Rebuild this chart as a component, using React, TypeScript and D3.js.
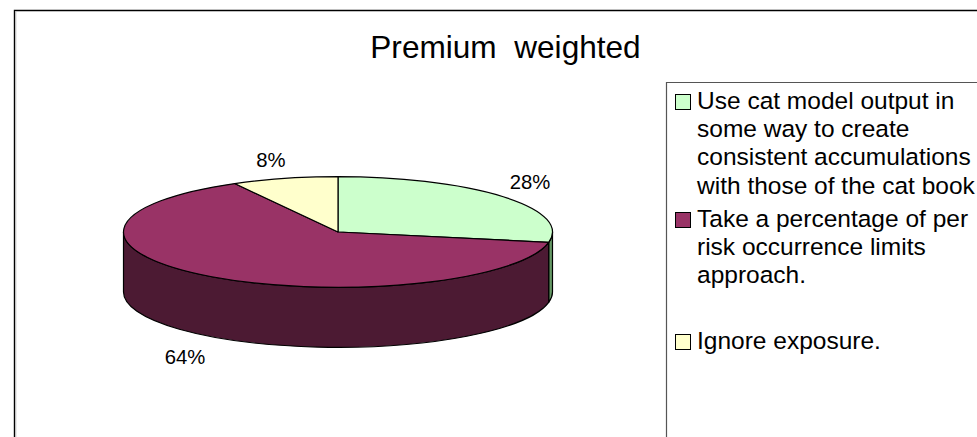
import React from "react";
import * as d3 from "d3";

const title = "Premium  weighted";
const shares = [28, 64, 8];
const shareLabels = ["28%", "64%", "8%"];
const topColors = ["#ccffcc", "#993366", "#ffffcc"];
const sideColors = ["#669966", "#4c1a33", "#808066"];
const legendLines = [
  ["Use cat model output in", "some way to create", "consistent accumulations", "with those of the cat book"],
  ["Take a percentage of per", "risk occurrence limits", "approach."],
  ["Ignore exposure."],
];

const W = 977;
const H = 437;
const FONT = "'Liberation Sans', Arial, sans-serif";
const cx = 338;
const cy = 232;
const rx = 214.5;
const ry = 55.3;
const depth = 60;

// Label centres and baselines, relative to the pie centre, in slice order.
const labelOffsets: [number, number][] = [
  [192, -43],
  [-153, 132],
  [-67, -65],
];
// First baseline of each legend entry.
const legendBaselines = [109, 227, 349];
const legendLineHeight = 28.2;

const pt = (a: number, dy = 0): [number, number] => [cx + rx * Math.sin(a), cy - ry * Math.cos(a) + dy];

const topSlice = (a0: number, a1: number) => {
  const [x0, y0] = pt(a0);
  const [x1, y1] = pt(a1);
  const large = a1 - a0 > Math.PI ? 1 : 0;
  return `M${cx},${cy}L${x0},${y0}A${rx},${ry} 0 ${large} 1 ${x1},${y1}Z`;
};

// Outer wall of a slice, limited to the half of the rim that faces the viewer.
const wall = (a0: number, a1: number) => {
  const s = Math.max(a0, Math.PI / 2);
  const e = Math.min(a1, (3 * Math.PI) / 2);
  if (e <= s) return null;
  const [x0, y0] = pt(s);
  const [x1, y1] = pt(e);
  const [x2, y2] = pt(e, depth);
  const [x3, y3] = pt(s, depth);
  return `M${x0},${y0}A${rx},${ry} 0 0 1 ${x1},${y1}L${x2},${y2}A${rx},${ry} 0 0 0 ${x3},${y3}Z`;
};

export default function App() {
  const arcs = d3
    .pie<number>()
    .sort(null)
    .value((d) => d)(shares);

  return (
    <svg
      width={W}
      height={H}
      viewBox={`0 0 ${W} ${H}`}
      style={{ position: "absolute", left: 0, top: 0, display: "block", background: "#fff", fontFamily: FONT }}
    >
      {/* chart frame, open at the right and bottom */}
      <path d={`M14.5,${H}V10.5H${W}`} fill="none" stroke="#000" strokeWidth={1.4} />
      <line x1={15.8} x2={15.8} y1={11} y2={H} stroke="#bbb" strokeWidth={1} />

      <text x={505.5} y={58} fontSize={31.6} textAnchor="middle" fill="#000" style={{ whiteSpace: "pre" }}>
        {title}
      </text>

      {arcs.map((a, i) => {
        const d = wall(a.startAngle, a.endAngle);
        return d ? <path key={i} d={d} fill={sideColors[i]} stroke="#000" strokeWidth={1.2} strokeLinejoin="round" /> : null;
      })}
      {arcs.map((a, i) => (
        <path key={i} d={topSlice(a.startAngle, a.endAngle)} fill={topColors[i]} stroke="#000" strokeWidth={1.2} strokeLinejoin="round" />
      ))}

      {shareLabels.map((t, i) => (
        <text key={t} x={cx + labelOffsets[i][0]} y={cy + labelOffsets[i][1]} fontSize={20.3} textAnchor="middle" fill="#000">
          {t}
        </text>
      ))}

      {/* legend box, open at the right and bottom */}
      <path d={`M666.5,${H}V82.5H${W}`} fill="none" stroke="#555" strokeWidth={1.2} />
      {legendLines.map((lines, i) => (
        <g key={i}>
          <rect
            x={675.5}
            y={legendBaselines[i] - 14.5}
            width={15}
            height={15}
            fill={topColors[i]}
            stroke="#000"
            strokeWidth={1}
          />
          {lines.map((l, j) => (
            <text key={j} x={697} y={legendBaselines[i] + j * legendLineHeight} fontSize={24.5} fill="#000">
              {l}
            </text>
          ))}
        </g>
      ))}
    </svg>
  );
}
